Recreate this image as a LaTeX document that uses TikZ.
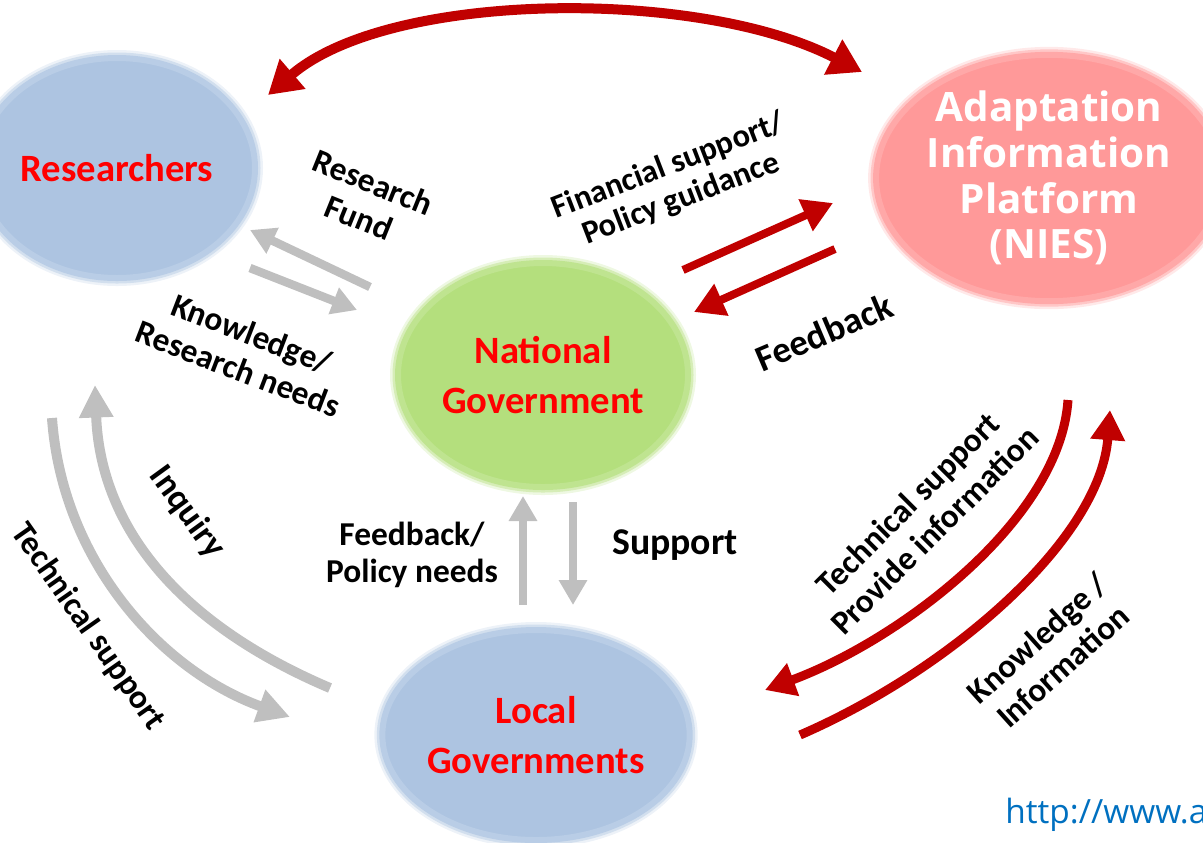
\documentclass[tikz,border=0pt]{standalone}
\usepackage{fontspec}
\setmainfont{Carlito}
\newfontfamily\niesfont{Open Sans}
\usetikzlibrary{arrows.meta,shapes.geometric}

\definecolor{blobblue}{RGB}{173,196,225}
\definecolor{blobpink}{RGB}{255,153,153}
\definecolor{blobgreen}{RGB}{180,223,125}
\definecolor{arrowred}{RGB}{192,0,0}
\definecolor{arrowgrey}{RGB}{191,191,191}
\definecolor{linkblue}{RGB}{0,112,192}

\tikzset{
  blob/.style={ellipse, inner sep=0pt, align=center, text=red,
    font=\bfseries\fontsize{22}{28}\selectfont},
  % fading rim: lightest band outside, fill colour inside
  soft/.style={fill=#1, draw=#1!85!white, line width=1.2mm,
    preaction={draw=#1!22!white, line width=3.2mm},
    preaction={draw=#1!55!white, line width=2.2mm}},
  lbl/.style={align=center, font=\bfseries\fontsize{19}{21.5}\selectfont},
  redarrow/.style={draw=arrowred, line width=1.8mm, -{Triangle[length=6mm,width=6.6mm]}},
  greyarrow/.style={draw=arrowgrey, line width=1.7mm, -{Triangle[length=5mm,width=5.4mm]}},
}

\begin{document}
\begin{tikzpicture}[x=0.2mm,y=-0.2mm]
\useasboundingbox (0,0) rectangle (1203,842);
\clip (0,0) rectangle (1203,842);

% the four actors
\node[blob, soft=blobblue, minimum width=55.2mm, minimum height=44mm] (res) at (117,168) {Researchers};
\node[blob, soft=blobpink, minimum width=59.6mm, minimum height=47.6mm, text=white,
      font=\niesfont\bfseries\fontsize{23}{26}\selectfont] (nies) at (1049,178) {Adaptation\\Information\\Platform\\(NIES)};
\node[blob, soft=blobgreen, minimum width=58mm, minimum height=44.8mm] (nat) at (543,375) {National\\Government};
\node[blob, soft=blobblue, minimum width=56mm, minimum height=42mm] (loc) at (536,735) {Local\\Governments};

% arrow ends
\coordinate (topL) at (268,95);   \coordinate (topR) at (862,72);
\coordinate (fundS) at (370,287); \coordinate (fundE) at (250,230);
\coordinate (needS) at (250,268); \coordinate (needE) at (357,310);
\coordinate (finS) at (683,270);  \coordinate (finE) at (833,203);
\coordinate (fbS) at (835,249);   \coordinate (fbE) at (694,312);
\coordinate (upS) at (523,605);   \coordinate (upE) at (523,496);
\coordinate (dnS) at (573,502);   \coordinate (dnE) at (573,605);
\coordinate (inqS) at (330,688);  \coordinate (inqE) at (95,385);
\coordinate (tsS) at (52,418);    \coordinate (tsE) at (290,717);
\coordinate (tiS) at (1068,400);  \coordinate (tiE) at (765,690);
\coordinate (kiS) at (800,735);   \coordinate (kiE) at (1110,410);

% red links
\draw[redarrow, line width=2mm, {Triangle[length=6.5mm,width=7.5mm]}-{Triangle[length=6.5mm,width=7.5mm]}]
  (topL) .. controls (390,-10) and (700,-12) .. (topR);
\draw[redarrow, line width=1.6mm] (finS) -- (finE);
\draw[redarrow, line width=1.6mm] (fbS) -- (fbE);
\draw[redarrow] (tiS) .. controls (1060,520) and (900,640) .. (tiE);
\draw[redarrow] (kiS) .. controls (950,670) and (1100,540) .. (kiE);

% grey links
\draw[greyarrow] (fundS) -- (fundE);
\draw[greyarrow] (needS) -- (needE);
\draw[greyarrow] (upS) -- (upE);
\draw[greyarrow] (dnS) -- (dnE);
\draw[greyarrow, line width=2mm, -{Triangle[length=6.5mm,width=6.5mm]}] (inqS) .. controls (170,620) and (100,520) .. (inqE);
\draw[greyarrow, line width=2mm, -{Triangle[length=6.5mm,width=6.5mm]}] (tsS) .. controls (62,560) and (160,670) .. (tsE);

% labels
\node[lbl, rotate=-22] (fund) at (366,200) {Research\\Fund};
\node[lbl, rotate=-21] (needs) at (245,351) {Knowledge/\\Research needs};
\node[lbl, rotate=21, font=\bfseries\fontsize{18.5}{20}\selectfont] (guid) at (675,183) {Financial support/\\Policy guidance};
\node[lbl, rotate=23, font=\bfseries\fontsize{21}{24}\selectfont] (fbk) at (824,332) {Feedback};
\node[lbl, rotate=-54, font=\bfseries\fontsize{20}{24}\selectfont] (inq) at (187,512) {Inquiry};
\node[lbl, rotate=-55] (tsl) at (88,627) {Technical support};
\node[lbl] (pneeds) at (412,555) {Feedback/\\Policy needs};
\node[lbl, font=\bfseries\fontsize{21.5}{24}\selectfont] (supp) at (675,545) {Support};
\node[lbl, rotate=45] (tsr) at (921,517) {Technical support\\Provide information};
\node[lbl, rotate=42] (kinfo) at (1050,652) {Knowledge /\\Information};
\node[anchor=base west, inner sep=0pt, text=linkblue, font=\niesfont\fontsize{19}{22}\selectfont] (url) at (1005,823) {http://www.a};
\end{tikzpicture}
\end{document}
